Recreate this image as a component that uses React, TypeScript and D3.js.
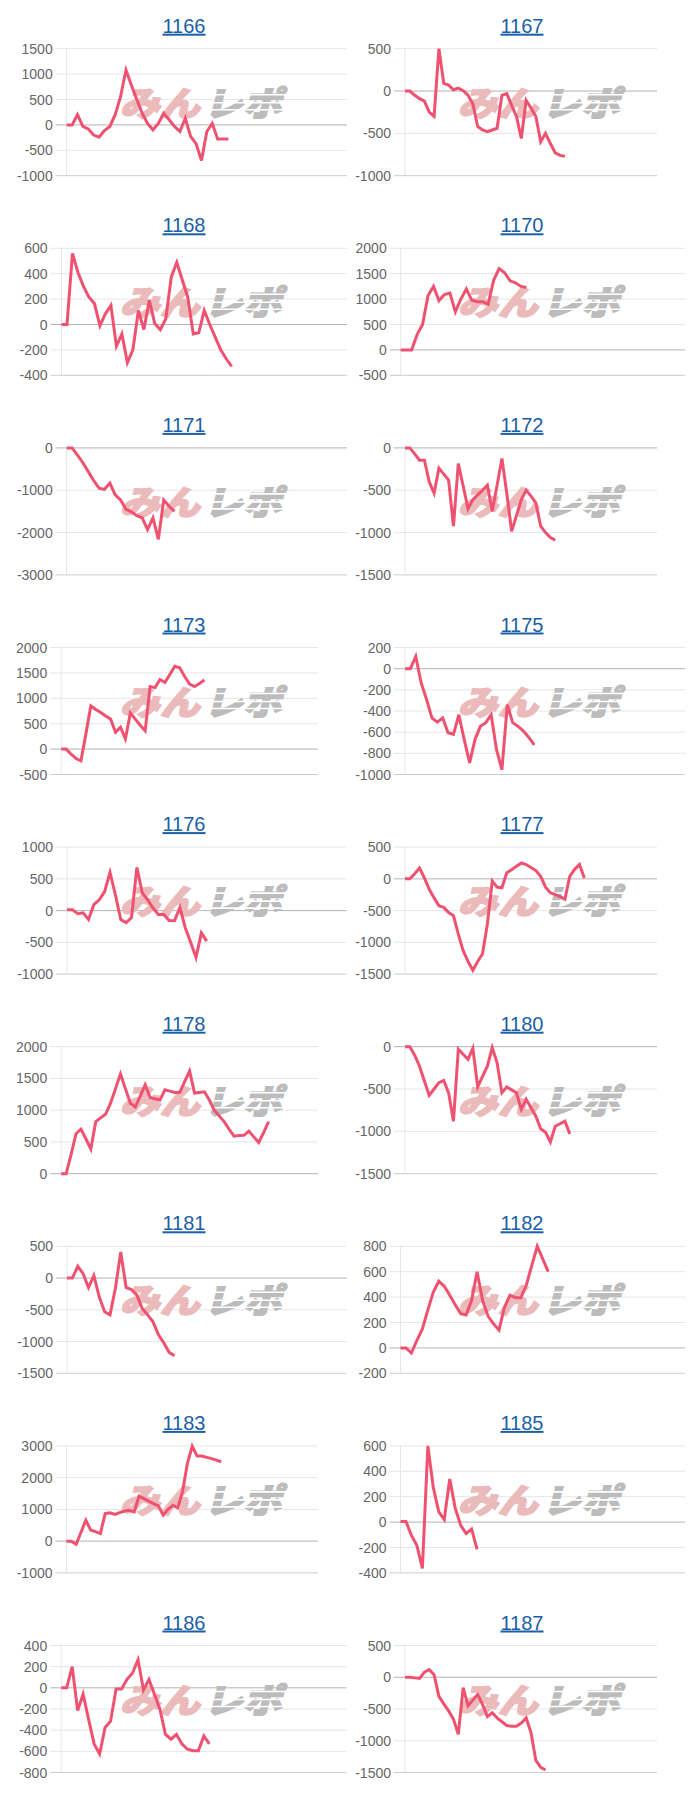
import React from "react";
import * as d3 from "d3";

// ---- data ----
const machines = ["1166","1167","1168","1170","1171","1172","1173","1175","1176","1177","1178","1180","1181","1182","1183","1185","1186","1187"];

const s1166 = [0,0,200,-30,-80,-200,-240,-110,-30,200,560,1080,780,500,230,30,-100,30,230,100,-30,-130,130,-230,-370,-700,-130,30,-280,-280,-280];
const s1167 = [0,0,-50,-90,-120,-250,-300,500,90,70,15,35,5,-50,-150,-420,-460,-480,-460,-440,-50,-30,-170,-300,-560,-110,-200,-300,-600,-500,-620,-730,-760,-770];
const s1168 = [0,0,560,410,300,215,165,-10,85,150,-170,-75,-300,-200,110,-40,190,5,-40,45,375,490,350,215,-75,-65,110,0,-100,-200,-270,-330];
const s1170 = [0,0,0,300,500,1070,1250,970,1090,1120,750,1000,1200,980,950,950,900,1370,1600,1520,1360,1320,1250,1230];
const s1171 = [0,0,-170,-350,-560,-770,-950,-980,-830,-1110,-1230,-1450,-1510,-1600,-1650,-1930,-1650,-2160,-1230,-1380,-1500];
const s1172 = [0,0,-70,-145,-145,-400,-535,-240,-310,-380,-925,-185,-450,-720,-610,-555,-500,-440,-750,-440,-125,-535,-985,-800,-610,-500,-570,-650,-925,-1000,-1060,-1090];
const s1173 = [0,0,-100,-185,-230,300,850,780,720,650,590,330,430,200,710,590,470,360,1230,1210,1370,1310,1470,1630,1600,1430,1280,1230,1290,1360];
const s1175 = [0,0,115,-135,-290,-465,-505,-465,-605,-620,-435,-670,-890,-670,-545,-510,-435,-765,-955,-340,-510,-545,-590,-650,-720];
const s1176 = [15,15,-50,-35,-140,95,170,300,600,250,-140,-190,-110,680,280,170,40,-60,-60,-155,-160,50,-270,-500,-740,-350,-480];
const s1177 = [0,0,80,170,15,-165,-300,-425,-450,-530,-580,-870,-1130,-1300,-1440,-1300,-1180,-710,-35,-130,-140,95,145,200,250,225,180,130,40,-130,-220,-250,-280,-320,40,150,225,15];
const s1178 = [0,0,300,630,700,550,390,820,880,940,1110,1340,1570,1340,1110,1050,1220,1400,1200,1180,1160,1320,1300,1280,1280,1450,1620,1270,1280,1290,1160,1000,910,820,700,590,600,605,670,580,490,650,820];
const s1180 = [0,0,-100,-230,-405,-575,-500,-425,-400,-545,-880,-30,-90,-150,-20,-475,-350,-230,-10,-190,-545,-475,-510,-545,-740,-620,-720,-820,-970,-1010,-1125,-940,-910,-880,-1030];
const s1181 = [0,0,185,70,-150,40,-300,-530,-580,-165,410,-150,-180,-270,-480,-580,-690,-890,-1020,-1170,-1225];
const s1182 = [0,0,-40,60,150,300,440,525,485,415,340,270,260,375,600,375,250,190,140,320,415,395,395,495,650,800,700,600];
const s1183 = [0,0,-100,280,660,350,300,240,870,890,840,900,950,970,920,1420,1340,1260,1180,1110,820,1000,1130,1050,1570,2450,2990,2680,2680,2640,2600,2550,2500];
const s1185 = [5,5,-105,-185,-365,600,270,80,20,340,110,-25,-90,-55,-215];
const s1186 = [0,0,200,-215,-60,-300,-530,-625,-375,-315,-10,-10,80,140,265,-20,80,-60,-205,-440,-485,-440,-530,-580,-595,-595,-455,-530];
const s1187 = [0,0,-10,-20,80,120,40,-300,-420,-530,-660,-900,-165,-450,-360,-270,-430,-620,-560,-640,-700,-760,-770,-770,-720,-640,-870,-1310,-1420,-1460];

const t1166 = [-1000,-500,0,500,1000,1500];
const t1167 = [-1000,-500,0,500];
const t1168 = [-400,-200,0,200,400,600];
const t1170 = [-500,0,500,1000,1500,2000];
const t1171 = [-3000,-2000,-1000,0];
const t1172 = [-1500,-1000,-500,0];
const t1173 = [-500,0,500,1000,1500,2000];
const t1175 = [-1000,-800,-600,-400,-200,0,200];
const t1176 = [-1000,-500,0,500,1000];
const t1177 = [-1500,-1000,-500,0,500];
const t1178 = [0,500,1000,1500,2000];
const t1180 = [-1500,-1000,-500,0];
const t1181 = [-1500,-1000,-500,0,500];
const t1182 = [-200,0,200,400,600,800];
const t1183 = [-1000,0,1000,2000,3000];
const t1185 = [-400,-200,0,200,400,600];
const t1186 = [-800,-600,-400,-200,0,200,400];
const t1187 = [-1500,-1000,-500,0,500];

const seriesList = [s1166,s1167,s1168,s1170,s1171,s1172,s1173,s1175,s1176,s1177,s1178,s1180,s1181,s1182,s1183,s1185,s1186,s1187];
const tickList = [t1166,t1167,t1168,t1170,t1171,t1172,t1173,t1175,t1176,t1177,t1178,t1180,t1181,t1182,t1183,t1185,t1186,t1187];

const X_COUNT = 53;

// ---- layout ----
const plotLeft = [66.7,405,61.5,400.7,66.7,405,61.2,405,67,405,61.2,405,67,400.5,66.5,400.5,61.2,405];
const plotRight = [347,657,347,685,347,657,318,685,346.5,657,318,657,346.5,685,318,685,346.5,657];
const ROW_PITCH = 199.6;
const TOP0 = 48.7;
const PLOT_H = 127;
const TITLE_X = [184, 522];
const LOGO_X = [120, 458];

const LINE_COLOR = "#ef5270";
const TITLE_COLOR = "#1b5fa6";

function Panel({ idx }: { idx: number }) {
  const col = idx % 2;
  const row = Math.floor(idx / 2);
  const top = TOP0 + ROW_PITCH * row;
  const bottom = top + PLOT_H;
  const left = plotLeft[idx];
  const right = plotRight[idx];
  const ticks = tickList[idx];
  const data = seriesList[idx];

  const x = d3.scaleLinear().domain([0, X_COUNT - 1]).range([left, right]);
  const y = d3.scaleLinear().domain([d3.min(ticks)!, d3.max(ticks)!]).range([bottom, top]);
  const line = d3.line<number>().x((_, i) => x(i)).y((d) => y(d));
  const minT = d3.min(ticks)!;

  const lx = LOGO_X[col];
  const ly = top + 67;
  const stripes = [-21, -13, -6];
  return (
    <g>
      <text
        x={TITLE_X[col]}
        y={top - 16}
        textAnchor="middle"
        fontFamily="Liberation Sans, Arial, sans-serif"
        fontSize={20}
        fill={TITLE_COLOR}
        textDecoration="underline"
      >
        {machines[idx]}
      </text>
      <line x1={left} x2={left} y1={top} y2={bottom} stroke="#e6e6e6" strokeWidth={1} />
      {ticks.map((t) => (
        <g key={t}>
          <line
            x1={left - 11}
            x2={right}
            y1={y(t)}
            y2={y(t)}
            stroke={t === 0 ? "#b3b3b3" : t === minT ? "#cccccc" : "#e6e6e6"}
            strokeWidth={1}
          />
          <text
            x={left - 14}
            y={y(t)}
            dy="0.36em"
            textAnchor="end"
            fontFamily="Liberation Sans, Arial, sans-serif"
            fontSize={14}
            fill="#666"
          >
            {t}
          </text>
        </g>
      ))}
      {/* watermark */}
      <g transform={`translate(${lx}, ${ly}) skewX(-14)`}>
        <text
          x={0}
          y={0}
          fontFamily="Noto Sans CJK JP, sans-serif"
          fontWeight={900}
          fontSize={34}
          fill="#ebbaba"
          stroke="#ebbaba"
          strokeWidth={1.6}
          textLength={80}
          lengthAdjust="spacingAndGlyphs"
        >
          みん
        </text>
        <text
          x={84}
          y={0}
          fontFamily="Noto Sans CJK JP, sans-serif"
          fontWeight={900}
          fontSize={34}
          fill="#bcbcbc"
          stroke="#bcbcbc"
          strokeWidth={1.6}
          textLength={78}
          lengthAdjust="spacingAndGlyphs"
        >
          レポ
        </text>
        {stripes.map((s) => (
          <line key={s} x1={84} x2={164} y1={s} y2={s} stroke="#fff" strokeWidth={1.6} />
        ))}
      </g>
      <path
        d={line(data) || ""}
        fill="none"
        stroke={LINE_COLOR}
        strokeWidth={3}
        strokeLinejoin="miter"
        strokeMiterlimit={4}
      />
    </g>
  );
}

export default function App() {
  return (
    <svg
      width={700}
      height={1800}
      style={{ position: "absolute", left: 0, top: 0, display: "block", background: "#fff" }}
    >
      <rect x={0} y={0} width={700} height={1800} fill="#fff" />
      {machines.map((_, i) => (
        <Panel key={i} idx={i} />
      ))}
    </svg>
  );
}
